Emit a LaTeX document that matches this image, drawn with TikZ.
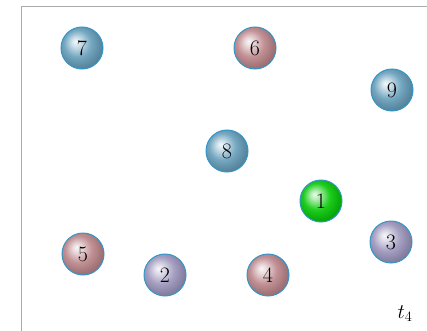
\documentclass[tikz,border=0pt]{standalone}
\usetikzlibrary{shadings}
\definecolor{bblue}{RGB}{105,160,188}
\definecolor{bpink}{RGB}{188,135,140}
\definecolor{blav}{RGB}{158,152,190}
\definecolor{bgreen}{RGB}{10,200,10}
\definecolor{brim}{RGB}{50,150,200}
\definecolor{framec}{RGB}{170,170,170}
\colorlet{spherebase}{bblue}
\pgfdeclareradialshading[spherebase]{sphere}{\pgfpoint{-8bp}{8bp}}{%
  color(0bp)=(spherebase!8!white);
  color(5bp)=(spherebase!30!white);
  color(16bp)=(spherebase!92!white);
  color(26bp)=(spherebase!85!black);
  color(36bp)=(spherebase!70!black);
  color(50bp)=(spherebase!60!black)}
\begin{document}
\begin{tikzpicture}[x=1pt,y=1pt,
  ballnode/.style={circle,minimum size=42pt,inner sep=0pt,draw=brim,line width=1pt,
    shading=sphere,font=\fontsize{22}{26}\selectfont},
  blueball/.style={ballnode,/utils/exec={\colorlet{spherebase}{bblue}}},
  pinkball/.style={ballnode,/utils/exec={\colorlet{spherebase}{bpink}}},
  lavball/.style={ballnode,/utils/exec={\colorlet{spherebase}{blav}}},
  greenball/.style={ballnode,/utils/exec={\colorlet{spherebase}{bgreen}}}]
\useasboundingbox (0,0) rectangle (427,330);
\draw[framec,line width=1pt] (21,-5) -- (21,323) -- (432,323);
\node[blueball] (n7) at (82,282) {7};
\node[pinkball] (n6) at (255,282) {6};
\node[blueball] (n9) at (392,240) {9};
\node[blueball] (n8) at (227,179) {8};
\node[greenball] (n1) at (321,129) {1};
\node[lavball] (n3) at (391,88) {3};
\node[pinkball] (n4) at (268,55) {4};
\node[pinkball] (n5) at (83,76) {5};
\node[lavball] (n2) at (165,55) {2};
\node[font=\fontsize{22}{26}\selectfont] (t) at (405,16) {$t_4$};
\end{tikzpicture}
\end{document}
